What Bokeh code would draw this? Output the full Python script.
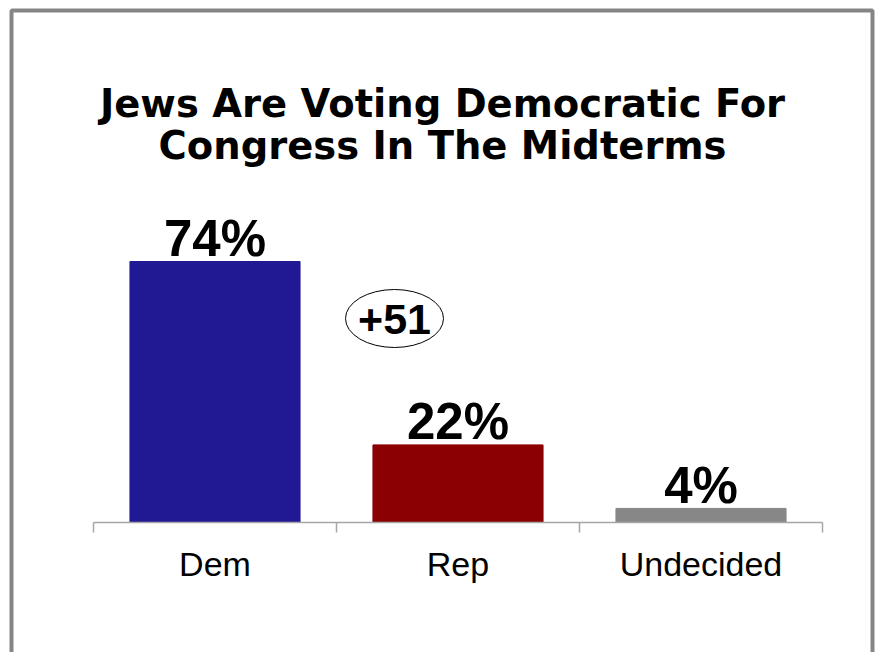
from bokeh.plotting import figure
from bokeh.models import FixedTicker, Label, ColumnDataSource, BoxAnnotation, Range1d
from bokeh.core.properties import value
from bokeh.embed import file_html
from bokeh.resources import INLINE

# ---- data ----
categories = ["Dem", "Rep", "Undecided"]
shares = [74, 22, 4]
bar_colors = ["#201993", "#8B0000", "#878787"]
lead_text = "+51"
title_lines = ["Jews Are Voting Democratic For", "Congress In The Midterms"]

W, H = 875, 652
# pixel positions of the category band (x) and of the 0% baseline (y)
BAND_L, BAND_R, BASE_Y = 93, 822, 522
PX_PER_CAT = (BAND_R - BAND_L) / 3.0
PX_PER_PCT = 261 / 74.0


def dx(px):
    return (px - BAND_L) / PX_PER_CAT


def dy(py):
    return (BASE_Y - py) / PX_PER_PCT


# the frame covers the whole canvas; the axis is drawn at a fixed location
p = figure(width=W, height=H, output_backend="svg", toolbar_location=None,
           x_range=Range1d(dx(0), dx(W)), y_range=Range1d(dy(H), dy(0)),
           y_axis_location=None, min_border=0)
p.background_fill_color = "white"
p.border_fill_color = "white"
p.outline_line_color = None
p.xgrid.visible = False
p.ygrid.visible = False

xs = [i + 0.5 for i in range(len(categories))]
src = ColumnDataSource(dict(x=xs, top=shares, color=bar_colors,
                            lab=[f"{v}%" for v in shares]))
p.vbar(x="x", top="top", bottom=0, width=0.70, color="color", source=src)
p.text(x="x", y="top", text="lab", source=src, text_align="center",
       text_baseline="alphabetic", y_offset=-23,
       text_font=value("Liberation Sans"), text_font_style="bold",
       text_font_size="51px", text_color="black")

# x axis
ax = p.xaxis[0]
ax.fixed_location = 0
ax.ticker = FixedTicker(ticks=xs, minor_ticks=[0, 1, 2, 3])
ax.major_label_overrides = {x: c for x, c in zip(xs, categories)}
ax.bounds = (0, 3)
ax.axis_line_color = "#A6A6A6"
ax.axis_line_width = 1.5
ax.major_tick_line_color = None
ax.major_tick_out = 0
ax.major_tick_in = 0
ax.minor_tick_line_color = "#A6A6A6"
ax.minor_tick_line_width = 1.5
ax.minor_tick_out = 10
ax.minor_tick_in = 0
ax.major_label_standoff = 12
ax.major_label_text_font = "Liberation Sans"
ax.major_label_text_font_size = "34px"
ax.major_label_text_color = "black"

# lead ellipse
p.ellipse(x=[dx(394)], y=[dy(318)], width=98, height=58,
          width_units="screen", height_units="screen",
          fill_color=None, line_color="black", line_width=1)
p.add_layout(Label(x=dx(394), y=dy(319), text=lead_text, text_align="center",
                   text_baseline="alphabetic", text_font="Liberation Sans",
                   text_font_style="bold", text_font_size="43px",
                   text_color="black"))

# title
for txt, base in zip(title_lines, [103, 145]):
    p.add_layout(Label(x=dx(442), y=dy(base), text=txt, text_align="center",
                       text_baseline="alphabetic", text_font="DejaVu Sans",
                       text_font_style="bold", text_font_size="38.5px",
                       text_color="black"))

# slide border (open at the bottom, beyond the canvas)
border = BoxAnnotation(left=dx(11), right=dx(872), top=dy(10), bottom=dy(720),
                       fill_color=None, fill_alpha=0,
                       line_color="#858585", line_width=4, line_alpha=1)
p.add_layout(border)

open("out.html", "w").write(file_html(p, INLINE))
